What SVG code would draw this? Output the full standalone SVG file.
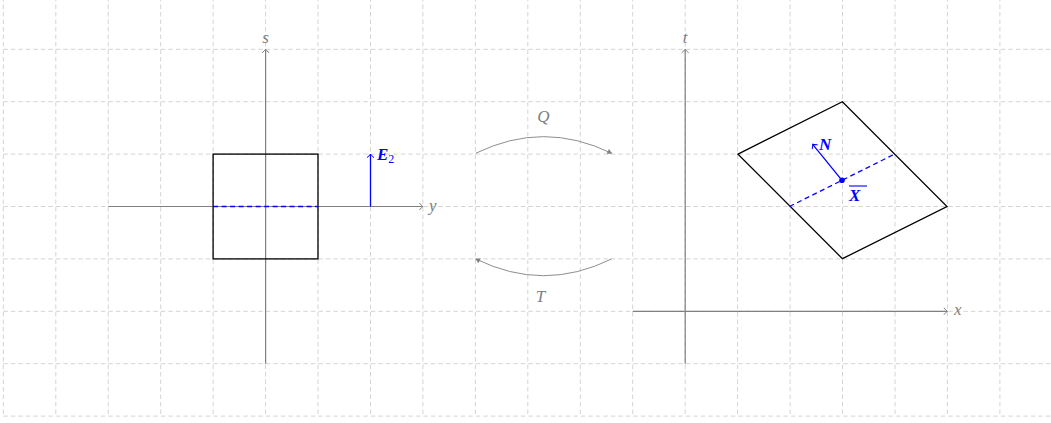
<svg xmlns="http://www.w3.org/2000/svg" width="1051" height="423" viewBox="0 0 1051 423">
<style>
.grid line{stroke:#d4d4d4;stroke-width:1;stroke-dasharray:4.5 3;}
.axis{stroke:#808080;stroke-width:1.2;fill:none;}
.shape{stroke:#000;stroke-width:1.3;fill:none;}
.blue{stroke:#0000ff;stroke-width:1.3;fill:none;}
.dash{stroke-dasharray:5 3.5;}
.lbl{font-family:'Liberation Serif','DejaVu Serif',serif;font-style:italic;font-size:17px;fill:#808080;}
.blbl{font-family:'Liberation Serif','DejaVu Serif',serif;font-style:italic;font-weight:bold;font-size:17px;fill:#0000ff;}
</style>
<defs>
<marker id="ag" markerWidth="10" markerHeight="10" refX="0" refY="0" viewBox="-5 -5 10 10" orient="auto" markerUnits="userSpaceOnUse">
<path d="M-3.5,-3.5 Q-1.5,-1 0,0 Q-1.5,1 -3.5,3.5" fill="none" stroke="#808080" stroke-width="1"/>
</marker>
<marker id="ab" markerWidth="10" markerHeight="10" refX="0" refY="0" viewBox="-5 -5 10 10" orient="auto" markerUnits="userSpaceOnUse">
<path d="M-3.5,-3.5 Q-1.5,-1 0,0 Q-1.5,1 -3.5,3.5" fill="none" stroke="#0000ff" stroke-width="1"/>
</marker>
<marker id="at" markerWidth="10" markerHeight="10" refX="0" refY="0" viewBox="-5 -5 10 10" orient="auto" markerUnits="userSpaceOnUse">
<path d="M-4,-2.2 Q-1.5,-0.5 0,0 Q-1.5,0.5 -4,2.2 Z" fill="#808080" stroke="#808080" stroke-width="0.6"/>
</marker>
</defs>
<rect width="1051" height="423" fill="#fff"/>
<g class="grid" id="grid">
<line x1="3.3" y1="-3" x2="3.3" y2="416.1"/>
<line x1="55.8" y1="-3" x2="55.8" y2="416.1"/>
<line x1="108.2" y1="-3" x2="108.2" y2="416.1"/>
<line x1="160.7" y1="-3" x2="160.7" y2="416.1"/>
<line x1="213.1" y1="-3" x2="213.1" y2="416.1"/>
<line x1="265.6" y1="-3" x2="265.6" y2="416.1"/>
<line x1="318.0" y1="-3" x2="318.0" y2="416.1"/>
<line x1="370.5" y1="-3" x2="370.5" y2="416.1"/>
<line x1="422.9" y1="-3" x2="422.9" y2="416.1"/>
<line x1="475.4" y1="-3" x2="475.4" y2="416.1"/>
<line x1="527.8" y1="-3" x2="527.8" y2="416.1"/>
<line x1="580.3" y1="-3" x2="580.3" y2="416.1"/>
<line x1="632.7" y1="-3" x2="632.7" y2="416.1"/>
<line x1="685.2" y1="-3" x2="685.2" y2="416.1"/>
<line x1="737.6" y1="-3" x2="737.6" y2="416.1"/>
<line x1="790.1" y1="-3" x2="790.1" y2="416.1"/>
<line x1="842.5" y1="-3" x2="842.5" y2="416.1"/>
<line x1="895.0" y1="-3" x2="895.0" y2="416.1"/>
<line x1="947.4" y1="-3" x2="947.4" y2="416.1"/>
<line x1="999.9" y1="-3" x2="999.9" y2="416.1"/>
<line x1="3.3" y1="49.3" x2="1060" y2="49.3"/>
<line x1="3.3" y1="101.7" x2="1060" y2="101.7"/>
<line x1="3.3" y1="154.1" x2="1060" y2="154.1"/>
<line x1="3.3" y1="206.5" x2="1060" y2="206.5"/>
<line x1="3.3" y1="258.9" x2="1060" y2="258.9"/>
<line x1="3.3" y1="311.3" x2="1060" y2="311.3"/>
<line x1="3.3" y1="363.7" x2="1060" y2="363.7"/>
<line x1="3.3" y1="416.1" x2="1060" y2="416.1"/>
</g>
<g id="left-axes">
<line class="axis" x1="108.2" y1="206.5" x2="422.9" y2="206.5" marker-end="url(#ag)"/>
<line class="axis" x1="265.6" y1="363.7" x2="265.6" y2="49.3" marker-end="url(#ag)"/>
<text class="lbl" x="429" y="211">y</text>
<text class="lbl" x="265.6" y="43" text-anchor="middle">s</text>
</g>
<g id="square">
<rect class="shape" x="213.1" y="154.1" width="104.9" height="104.8"/>
<line class="blue dash" x1="213.1" y1="206.5" x2="318" y2="206.5"/>
</g>
<g id="E2">
<line class="blue" x1="370.5" y1="206.5" x2="370.5" y2="154.1" marker-end="url(#ab)"/>
<text class="blbl" x="377" y="160">E<tspan font-size="12" font-weight="normal" font-style="normal" dy="3">2</tspan></text>
</g>
<g id="connectors">
<path d="M475.7,153.3 Q543.7,120 611.7,153.3" fill="none" stroke="#808080" stroke-width="0.9" marker-end="url(#at)"/>
<text class="lbl" x="543.5" y="122" text-anchor="middle">Q</text>
<path d="M611.7,258.9 Q543.7,292.5 475.7,258.9" fill="none" stroke="#808080" stroke-width="0.9" marker-end="url(#at)"/>
<text class="lbl" x="540.5" y="302" text-anchor="middle">T</text>
</g>
<g id="right-axes">
<line class="axis" x1="632.7" y1="311.3" x2="947.4" y2="311.3" marker-end="url(#ag)"/>
<line class="axis" x1="685.2" y1="363.7" x2="685.2" y2="49.3" marker-end="url(#ag)"/>
<text class="lbl" x="954" y="315">x</text>
<text class="lbl" x="685.2" y="43" text-anchor="middle">t</text>
</g>
<g id="parallelogram">
<polygon class="shape" points="738,154.1 842.4,101.7 947,206.5 842.4,258.7"/>
<line class="blue dash" x1="789.5" y1="206.5" x2="894.6" y2="154.1"/>
<circle cx="842" cy="180.3" r="2.8" fill="#0000ff"/>
<line class="blue" x1="842" y1="180.3" x2="812.7" y2="144.3" marker-end="url(#ab)"/>
<text class="blbl" x="819" y="150">N</text>
<text class="blbl" x="849" y="201">X</text>
<line x1="849" y1="186" x2="867" y2="186" stroke="#0000ff" stroke-width="1.1"/>
</g>
</svg>
